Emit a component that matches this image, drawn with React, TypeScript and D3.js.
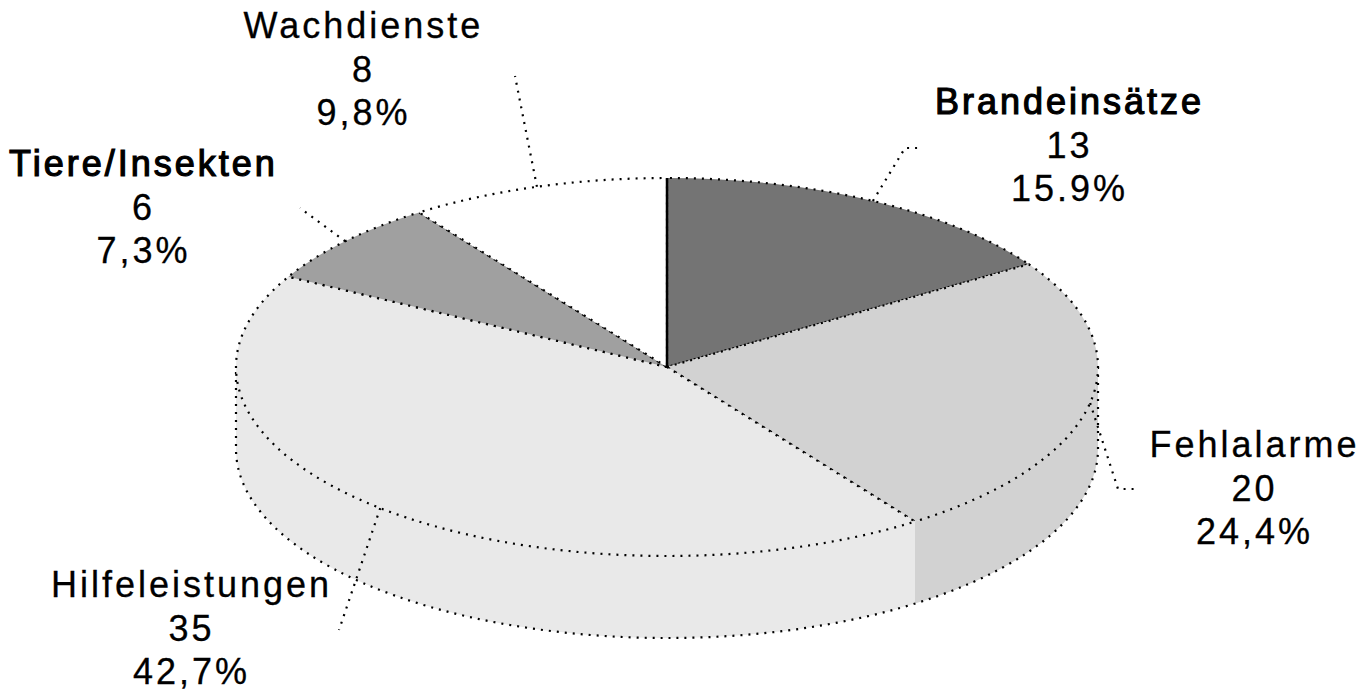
import React from 'react';
import * as d3 from 'd3';

// Einsatzstatistik
const categories = ['Brandeinsätze', 'Fehlalarme', 'Hilfeleistungen', 'Tiere/Insekten', 'Wachdienste'];
const counts = [13, 20, 35, 6, 8];
const percentLabels = ['15.9%', '24,4%', '42,7%', '7,3%', '9,8%'];
const sliceColors = ['#747474', '#d2d2d2', '#e9e9e9', '#a0a0a0', '#ffffff'];

// label placement (centre x, first baseline) and leader bends
const labelAnchors: [number, number][] = [[1068, 114], [1253, 457], [190, 597], [142, 176], [362, 38]];
const leaderBends: [number, number][][] = [
  [[905, 148], [921, 148]],
  [[1118, 489], [1136, 489]],
  [[339, 630]],
  [[300, 208]],
  [[515, 76]],
];
const boldLabels = [true, false, false, true, false];

const W = 1370;
const H = 695;
const cx = 667;
const cy = 367;
const rx = 431;
const ry = 189;
const depth = 82;
const lineH = 43.5;
const dots = '2 6';

const pt = (a: number, dy = 0) => [cx + rx * Math.sin(a), cy - ry * Math.cos(a) + dy];
const fmt = (p: number[]) => `${p[0].toFixed(2)},${p[1].toFixed(2)}`;

export default function App() {
  const pie = d3.pie<number>().sort(null).value(d => d);
  const arcs = pie(counts);

  const topPath = (a0: number, a1: number) =>
    `M${cx},${cy} L${fmt(pt(a0))} A${rx},${ry} 0 ${a1 - a0 > Math.PI ? 1 : 0} 1 ${fmt(pt(a1))} Z`;

  const sidePath = (a0: number, a1: number) => {
    const s = Math.max(a0, Math.PI / 2);
    const e = Math.min(a1, (3 * Math.PI) / 2);
    if (s >= e) return null;
    const large = e - s > Math.PI ? 1 : 0;
    return `M${fmt(pt(s))} A${rx},${ry} 0 ${large} 1 ${fmt(pt(e))} L${fmt(pt(e, depth))} A${rx},${ry} 0 ${large} 0 ${fmt(pt(s, depth))} Z`;
  };

  const leaderPath = (i: number) => {
    const a = (arcs[i].startAngle + arcs[i].endAngle) / 2;
    const pts = [pt(a), ...leaderBends[i]];
    return d3.line()(pts as [number, number][]) || '';
  };

  return (
    <svg width={W} height={H} style={{ position: 'absolute', left: 0, top: 0, background: '#fff' }}
      fontFamily="'Liberation Sans', Arial, sans-serif">
      {/* sides */}
      {arcs.map((d, i) => {
        const p = sidePath(d.startAngle, d.endAngle);
        return p ? <path key={'s' + i} d={p} fill={sliceColors[i]} stroke="none" /> : null;
      })}
      <path
        d={`M${fmt(pt(Math.PI / 2))} L${fmt(pt(Math.PI / 2, depth))} A${rx},${ry} 0 1 1 ${fmt(pt(3 * Math.PI / 2, depth))} L${fmt(pt(3 * Math.PI / 2))}`}
        fill="none" stroke="#000" strokeWidth={2.2} strokeDasharray={dots} />

      {/* top */}
      {arcs.map((d, i) => (
        <path key={'t' + i} d={topPath(d.startAngle, d.endAngle)} fill={sliceColors[i]}
          stroke="#000" strokeWidth={2.2} strokeDasharray={dots} />
      ))}
      <line x1={cx} y1={cy} x2={cx} y2={cy - ry} stroke="#000" strokeWidth={2.5} />

      {/* leaders */}
      {arcs.map((d, i) => (
        <path key={'l' + i} d={leaderPath(i)} fill="none" stroke="#000" strokeWidth={2.2} strokeDasharray={dots} />
      ))}

      {/* labels */}
      {categories.map((c, i) => {
        const [x, y] = labelAnchors[i];
        return (
          <text key={'x' + i} textAnchor="middle" fontSize={36} fill="#000" letterSpacing={3}>
            <tspan x={x + 1.5} y={y} stroke="#000" strokeWidth={boldLabels[i] ? 1.2 : 0.3}>{c}</tspan>
            <tspan x={x + 1.5} y={y + lineH} stroke="#000" strokeWidth={0.3}>{counts[i]}</tspan>
            <tspan x={x + 1.5} y={y + 2 * lineH} stroke="#000" strokeWidth={0.3}>{percentLabels[i]}</tspan>
          </text>
        );
      })}
    </svg>
  );
}
